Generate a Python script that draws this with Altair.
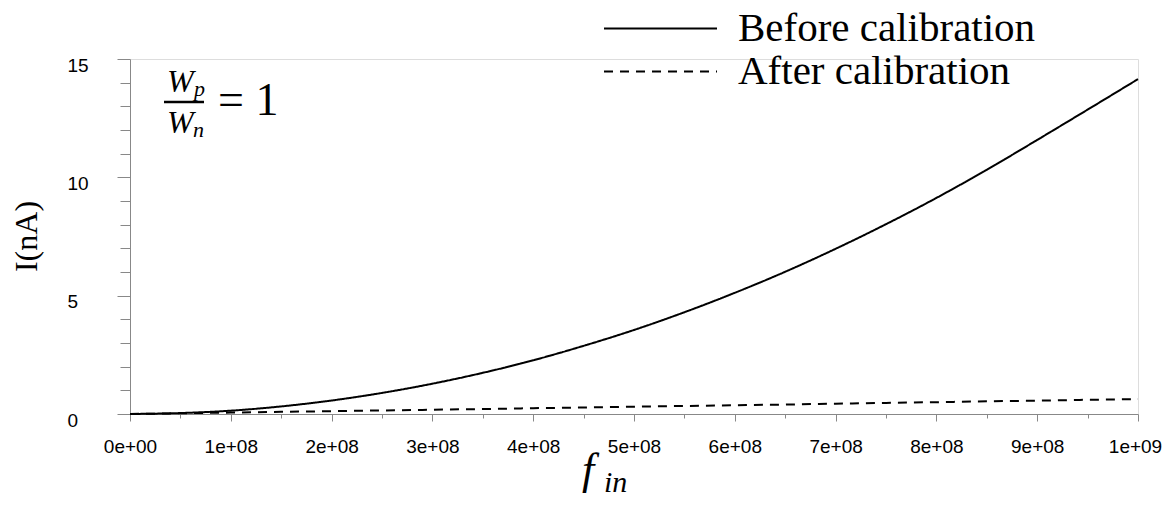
import altair as alt
import pandas as pd

# ---- data ----
freq = [0, 0.5e8, 1e8, 1.5e8, 2e8, 2.5e8, 3e8, 3.5e8, 4e8, 4.5e8, 5e8,
        5.5e8, 6e8, 6.5e8, 7e8, 7.5e8, 8e8, 8.5e8, 9e8, 9.5e8, 1e9]
before = [0.0, 0.04, 0.14, 0.32, 0.57, 0.89, 1.28, 1.74, 2.27, 2.88, 3.55,
          4.30, 5.12, 6.01, 6.98, 8.02, 9.13, 10.32, 11.58, 12.86, 14.15]
after = [0.0, 0.03, 0.06, 0.09, 0.12, 0.15, 0.18, 0.21, 0.245, 0.275, 0.31,
         0.34, 0.37, 0.40, 0.435, 0.47, 0.50, 0.535, 0.565, 0.60, 0.63]
series_names = ["Before calibration", "After calibration"]
x_tick_values = [0, 0.5e8, 1e8, 1.5e8, 2e8, 2.5e8, 3e8, 3.5e8, 4e8, 4.5e8, 5e8,
                 5.5e8, 6e8, 6.5e8, 7e8, 7.5e8, 8e8, 8.5e8, 9e8, 9.5e8, 1e9]
y_tick_values = [0, 1, 2, 3, 4, 5, 6, 7, 8, 9, 10, 11, 12, 13, 14, 15]

df = pd.DataFrame({
    "f": freq + freq,
    "I": before + after,
    "series": [series_names[0]] * len(freq) + [series_names[1]] * len(freq),
})
one = pd.DataFrame({"k": [0]})

SERIF = "Liberation Serif"
SANS = "Liberation Sans"

x_label_expr = ("datum.value % 100000000 != 0 ? '' : "
                "(datum.value == 0 ? '0e+00' : (datum.value == 1000000000 ? '1e+09' : "
                "format(datum.value / 100000000, 'd') + 'e+08'))")

# long horizontal stroke as a custom legend symbol (scaled by sqrt(size)/2)
legend_line = "M-5.65,0H5.65"

lines = alt.Chart(df).mark_line(color="black", strokeWidth=2, interpolate="monotone").encode(
    x=alt.X("f:Q",
            scale=alt.Scale(domain=[0, 1e9], nice=False, zero=False),
            axis=alt.Axis(values=x_tick_values, labelExpr=x_label_expr, title=None, grid=False,
                          tickSize={"condition": {"test": "datum.value % 100000000 == 0", "value": 7}, "value": 4},
                          labelOffset={"condition": {"test": "datum.value == 1000000000", "value": -3}, "value": 0},
                          labelPadding=16, labelFlush=False, labelOverlap=False,
                          labelFont=SANS, labelFontSize=19)),
    y=alt.Y("I:Q",
            scale=alt.Scale(domain=[0, 15], nice=False),
            axis=alt.Axis(values=y_tick_values, grid=False,
                          labelExpr="datum.value % 5 == 0 ? datum.label : ''",
                          tickSize={"condition": {"test": "datum.value % 5 == 0", "value": 13}, "value": 10},
                          labelAlign="left", labelBaseline="middle", labelPadding=50, labelOffset=6,
                          labelFlush=False, labelOverlap=False,
                          labelFont=SANS, labelFontSize=19,
                          title="I(nA)", titleFont=SERIF, titleFontSize=32, titleFontWeight="normal",
                          titleColor="black", titleX=-87, titleY=177)),
    strokeDash=alt.StrokeDash("series:N",
                              scale=alt.Scale(domain=series_names, range=[[1, 0], [9, 7]]),
                              legend=alt.Legend(orient="none", legendX=510, legendY=-51, title=None,
                                                symbolType=legend_line, symbolSize=400,
                                                symbolStrokeWidth=2, symbolStrokeColor="black",
                                                labelFont=SERIF, labelFontSize=41, labelColor="black",
                                                labelLimit=0, labelOffset=57, rowPadding=1, padding=0)),
)

def txt(s, x, y, size, italic=True):
    return alt.Chart(one).mark_text(
        text=s, font=SERIF, fontSize=size, fontStyle="italic" if italic else "normal",
        align="left", baseline="alphabetic", color="black"
    ).encode(x=alt.value(x), y=alt.value(y))

frac_bar = alt.Chart(one).mark_rule(color="black", strokeWidth=2.5).encode(
    x=alt.value(34), x2=alt.value(74), y=alt.value(43))

annotations = [
    txt("W", 37, 33, 32), txt("p", 64, 37, 22),
    frac_bar,
    txt("W", 37, 74, 32), txt("n", 63, 78, 22),
    txt("= 1", 88, 56, 46, italic=False),
    txt("f", 452, 425, 44), txt("in", 474, 433, 30),
]

chart = alt.layer(lines, *annotations).properties(
    width=1008, height=355,
    autosize=alt.AutoSizeParams(type="none"),
    padding={"left": 122, "top": 51, "right": 25, "bottom": 84},
).configure_view(stroke=None).configure_axis(
    grid=False, domainColor="black", domainWidth=1.5, tickColor="black", tickWidth=1.5,
    labelColor="black",
).configure(background="white")

chart.save("out.html", embed_options={"renderer": "svg", "actions": False})
